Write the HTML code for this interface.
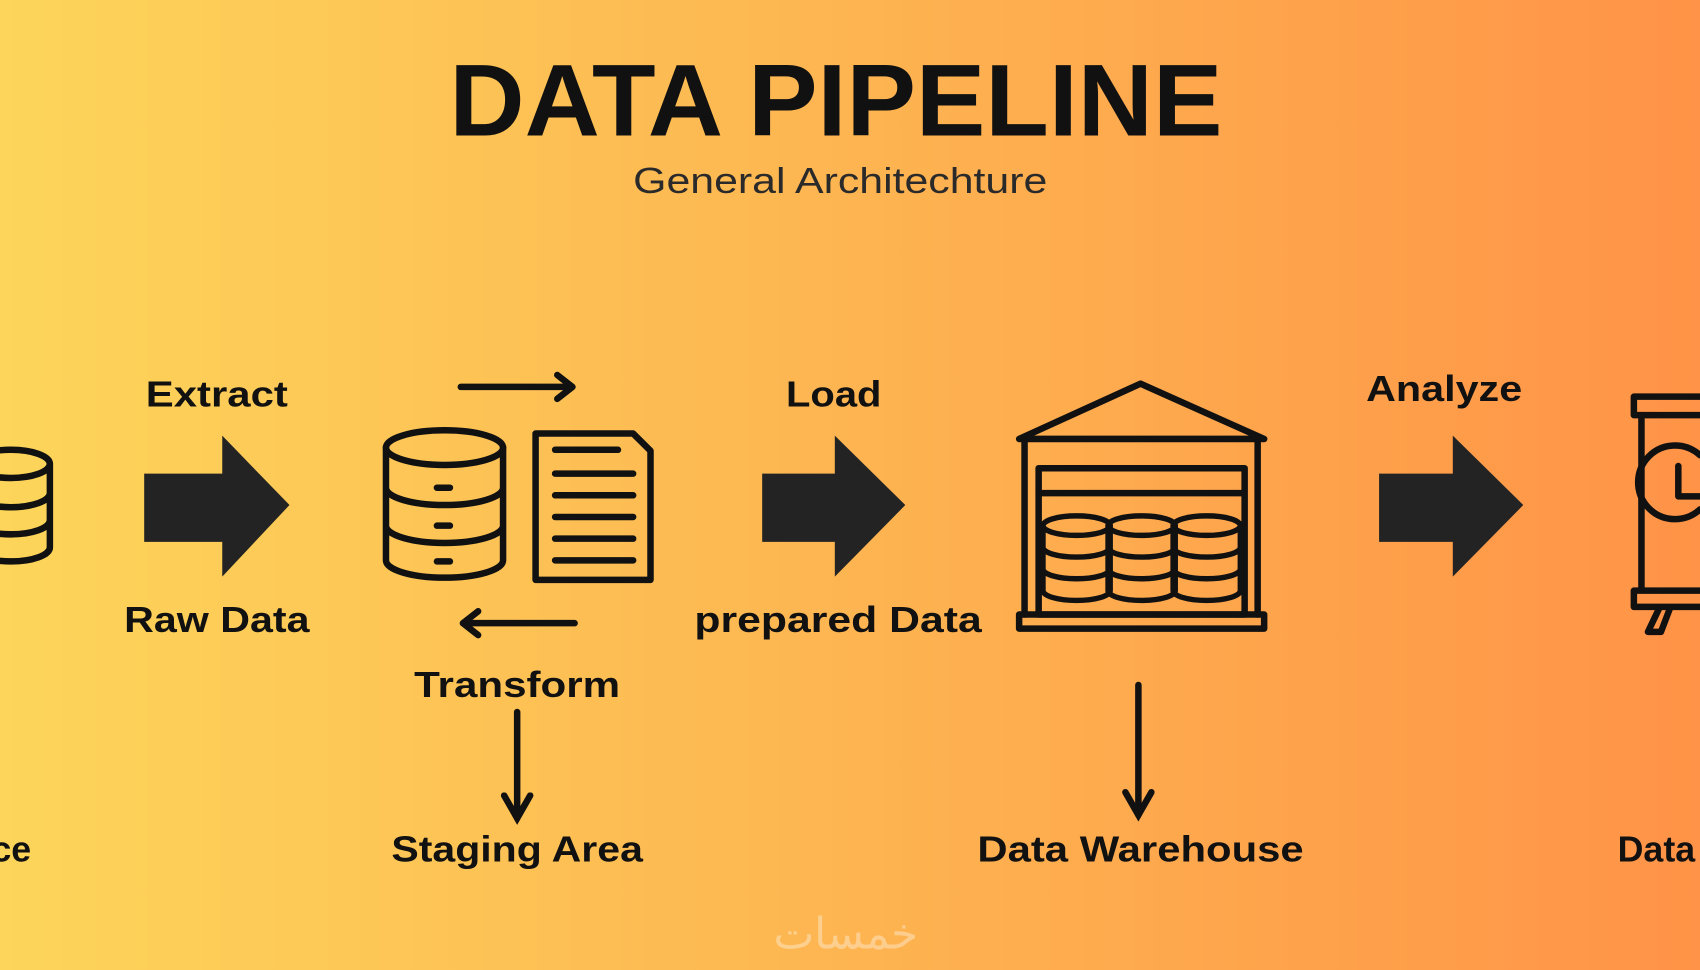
<!DOCTYPE html>
<html><head><style>
html,body{margin:0;padding:0;width:1700px;height:970px;overflow:hidden}
svg{display:block}
text{font-family:"Liberation Sans",sans-serif;fill:#111}
</style></head><body>
<svg width="1700" height="970" viewBox="0 0 1568 895" preserveAspectRatio="none" xmlns="http://www.w3.org/2000/svg">
<defs>
<linearGradient id="bg" x1="0" y1="0" x2="1" y2="0">
<stop offset="0" stop-color="#fdd55a"/>
<stop offset="0.45" stop-color="#fdb852"/>
<stop offset="1" stop-color="#ff9347"/>
</linearGradient>
<marker id="ah" viewBox="0 0 10 10" refX="8" refY="5" markerWidth="5" markerHeight="5" orient="auto"><path d="M1,1 L8,5 L1,9" fill="none" stroke="#111" stroke-width="2" stroke-linecap="round"/></marker>
</defs>
<rect width="1568" height="895" fill="url(#bg)"/>
<text x="771" y="125" font-size="94" font-weight="bold" text-anchor="middle" textLength="713" lengthAdjust="spacingAndGlyphs">DATA PIPELINE</text>
<text x="775" y="178" font-size="33" text-anchor="middle" textLength="382" lengthAdjust="spacingAndGlyphs" style="fill:#2a2a2a">General Architechture</text>

<g font-weight="bold" font-size="33">
<text x="200" y="375" text-anchor="middle" textLength="131" lengthAdjust="spacingAndGlyphs">Extract</text>
<text x="200" y="583" text-anchor="middle" textLength="171" lengthAdjust="spacingAndGlyphs">Raw Data</text>
<text x="477" y="643" text-anchor="middle" textLength="190" lengthAdjust="spacingAndGlyphs">Transform</text>
<text x="477" y="795" text-anchor="middle" textLength="232" lengthAdjust="spacingAndGlyphs">Staging Area</text>
<text x="769" y="375" text-anchor="middle" textLength="88" lengthAdjust="spacingAndGlyphs">Load</text>
<text x="773" y="583" text-anchor="middle" textLength="265" lengthAdjust="spacingAndGlyphs">prepared Data</text>
<text x="1052" y="795" text-anchor="middle" textLength="301" lengthAdjust="spacingAndGlyphs">Data Warehouse</text>
<text x="1332" y="370" text-anchor="middle" textLength="144" lengthAdjust="spacingAndGlyphs">Analyze</text>
<text x="-8" y="795">ce</text>
<text x="1492" y="795">Data</text>
</g>

<g fill="#232323">
<path d="M133,437 H205 V402 L267,466 L205,532 V500 H133 Z"/>
<path d="M703,437 H770 V402 L835,466 L770,532 V500 H703 Z"/>
<path d="M1272,437 H1340 V402 L1405,466 L1340,532 V500 H1272 Z"/>
</g>

<g fill="none" stroke="#111" stroke-width="6" stroke-linecap="round" stroke-linejoin="round">
<ellipse cx="10" cy="428" rx="36" ry="13"/>
<path d="M-26,428 V505 A36,13 0 0 0 46,505 V428 M-26,455 A36,13 0 0 0 46,455 M-26,480 A36,13 0 0 0 46,480"/>
<ellipse cx="410" cy="413" rx="54" ry="16"/>
<path d="M356,413 V517 A54,16 0 0 0 464,517 V413 M356,450 A54,16 0 0 0 464,450 M356,485 A54,16 0 0 0 464,485"/>
<path d="M403,450 h12 M403,485 h12 M403,518 h12"/>
<path d="M494,400 H584 L600,416 V535 H494 Z"/>
<path d="M512,415 H570 M512,437 H584 M512,457 H584 M512,477 H584 M512,497 H584 M512,517 H584"/>
<path d="M425,357 H528 M514,346 L528,357 L514,368"/>
<path d="M530,575 H427 M441,564 L427,575 L441,586"/>
<path d="M477,657 V755" marker-end="url(#ah)"/>
<path d="M1050,632 V752" marker-end="url(#ah)"/>
<path d="M940,405 L1052,354 L1166,405 Z"/>
<path d="M945,408 V567 M1160,408 V567"/>
<rect x="940" y="567" width="226" height="13"/>
<rect x="958" y="432" width="190" height="135"/>
<path d="M960,455 H1146"/>
<g stroke-width="5">
<ellipse cx="993" cy="485" rx="31" ry="9"/><ellipse cx="1053" cy="485" rx="31" ry="9"/><ellipse cx="1113" cy="485" rx="31" ry="9"/>
<path d="M962,485 V545 A31,9 0 0 0 1024,545 V485 M962,505 A31,9 0 0 0 1024,505 M962,525 A31,9 0 0 0 1024,525"/>
<path d="M1022,485 V545 A31,9 0 0 0 1084,545 V485 M1022,505 A31,9 0 0 0 1084,505 M1022,525 A31,9 0 0 0 1084,525"/>
<path d="M1082,485 V545 A31,9 0 0 0 1144,545 V485 M1082,505 A31,9 0 0 0 1144,505 M1082,525 A31,9 0 0 0 1144,525"/>
</g>
<rect x="1507" y="366" width="80" height="17"/>
<path d="M1514,383 V545 M1507,545 H1580 V560 H1507 Z"/>
<path d="M1530,562 L1520,583 H1532 L1540,562"/>
<path d="M1568,420 A34,34 0 1 0 1568,470 M1548,430 V458 H1568"/>
</g>
<text x="780" y="875" font-size="40" text-anchor="middle" style="fill:#fff;opacity:0.35" font-family="DejaVu Sans">خمسات</text>
</svg>
</body></html>
